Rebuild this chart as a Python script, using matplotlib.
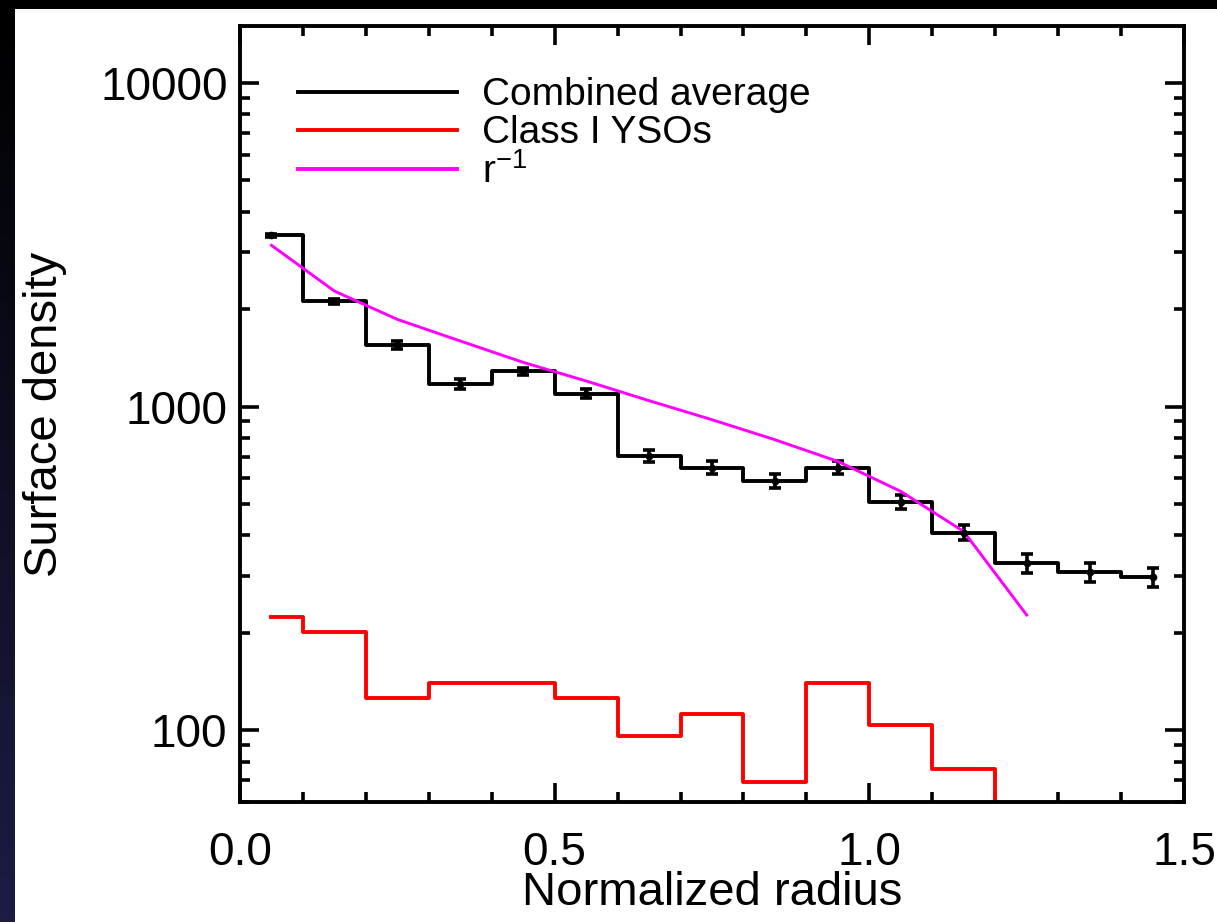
import numpy as np
import matplotlib
matplotlib.use("Agg")
import matplotlib.pyplot as plt
from matplotlib.lines import Line2D
from matplotlib.patches import Rectangle
from matplotlib.ticker import FixedLocator, LogLocator, NullFormatter, MultipleLocator

plt.rcParams['font.family'] = ['Liberation Sans', 'DejaVu Sans']
plt.rcParams['mathtext.default'] = 'regular'

# bin centres (normalized radius)
radius = [0.05, 0.15, 0.25, 0.35, 0.45, 0.55, 0.65, 0.75, 0.85, 0.95, 1.05, 1.15, 1.25, 1.35, 1.45]

# combined average surface density and errors
combined = [3380, 2115, 1550, 1175, 1285, 1095, 705, 648, 590, 648, 508, 408, 328, 308, 298]
combined_err = [45, 40, 45, 40, 35, 35, 30, 30, 28, 30, 25, 22, 22, 20, 20]

# class I YSOs (last bins fall below the plotted range)
yso_radius = [0.05, 0.15, 0.25, 0.35, 0.45, 0.55, 0.65, 0.75, 0.85, 0.95, 1.05, 1.15, 1.25]
yso = [224, 201, 126, 140, 140, 126, 96, 112, 69, 140, 104, 76, 10]

# r^-1 profile
r1_radius = [0.05, 0.15, 0.25, 0.35, 0.45, 0.55, 0.65, 0.75, 0.85, 0.95, 1.05, 1.15, 1.25]
r1 = [3150, 2275, 1860, 1595, 1370, 1200, 1043, 911, 790, 677, 547, 411, 227]

W, H = 1217, 922
fig = plt.figure(figsize=(W / 100, H / 100), dpi=100, facecolor='black')

# white page with dark strip on the left
fig.patches.append(Rectangle((15 / W, 0), 1 - 15 / W, (H - 9) / H, transform=fig.transFigure,
                             facecolor='white', edgecolor='none', zorder=-10))
strip = fig.add_axes([0, 0, 15 / W, (H - 9) / H])
grad = np.linspace(0, 1, 100).reshape(-1, 1)
strip.imshow(grad, aspect='auto', cmap=matplotlib.colors.LinearSegmentedColormap.from_list(
    'navy', ['#000000', '#1c1c45']), origin='upper')
strip.axis('off')

ax = fig.add_axes([240 / W, (H - 802) / H, (1184 - 240) / W, (802 - 26) / H])
ax.set_facecolor('white')

lw = 2.8
ax.step(radius, combined, where='mid', color='black', lw=lw)
ax.errorbar(radius, combined, yerr=combined_err, fmt='o', color='black', ms=4.5,
            elinewidth=2.6, capsize=4.5, capthick=2.6)
ax.step(yso_radius, yso, where='mid', color='#ff0000', lw=lw)
ax.plot(r1_radius, r1, color='#ff00ff', lw=2.1)

ax.set_yscale('log')
ax.set_xlim(0, 1.5)
ax.set_ylim(60, 15000)

ax.yaxis.set_major_locator(FixedLocator([100, 1000, 10000]))
ax.set_yticklabels(['100', '1000', '10000'])
ax.yaxis.set_minor_locator(LogLocator(base=10, subs=np.arange(2, 10)))
ax.yaxis.set_minor_formatter(NullFormatter())
ax.xaxis.set_minor_locator(MultipleLocator(0.1))
ax.set_xticks([0, 0.5, 1.0, 1.5])
ax.set_xticklabels(['0.0', '0.5', '1.0', '1.5'])

ax.tick_params(which='both', direction='in', top=True, right=True, width=2.6, labelsize=33)
ax.tick_params(which='major', length=14)
ax.tick_params(which='minor', length=7)
ax.tick_params(axis='x', which='major', pad=21)
ax.tick_params(axis='y', which='major', pad=9)
for s in ax.spines.values():
    s.set_linewidth(2.8)

ax.set_xlabel('Normalized radius', fontsize=34, labelpad=-3)
ax.set_ylabel('Surface density', fontsize=34, labelpad=24)

handles = [Line2D([], [], color='black', lw=lw),
           Line2D([], [], color='#ff0000', lw=lw),
           Line2D([], [], color='#ff00ff', lw=lw)]
ax.legend(handles, ['Combined average', 'Class I YSOs', 'r$^{-1}$'], loc='upper left',
          bbox_to_anchor=(0.0614, 0.934), frameon=False, fontsize=28, handlelength=4.1,
          handletextpad=0.62, labelspacing=0.05, borderpad=0, borderaxespad=0)

fig.savefig('out.png', dpi=100, facecolor=fig.get_facecolor())
